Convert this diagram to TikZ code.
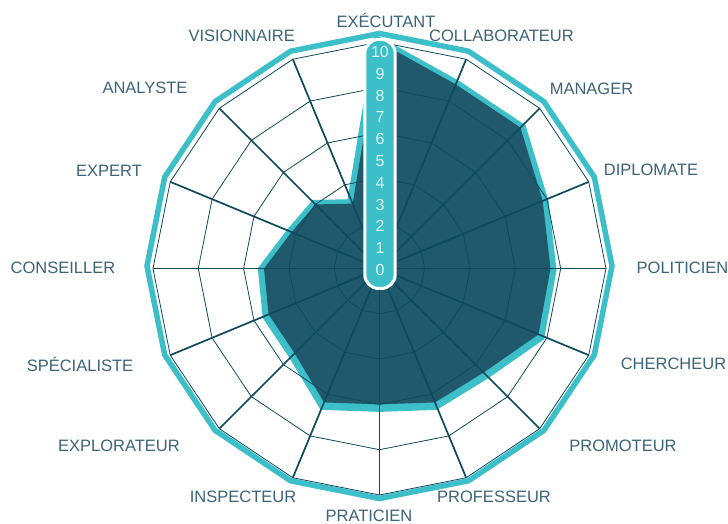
\documentclass[tikz,border=0pt]{standalone}
\usepackage{fontspec}
\setmainfont{Liberation Sans}
\usepackage{tikz}
\usetikzlibrary{positioning}

\definecolor{tealedge}{RGB}{61,191,201}
\definecolor{datafill}{RGB}{32,89,108}
\definecolor{gridline}{RGB}{14,74,94}
\definecolor{labeltext}{RGB}{60,100,120}
\definecolor{pilltext}{RGB}{221,243,245}

% values, clockwise from COLLABORATEUR (EXECUTANT = 10)
\def\datavals{8.8,8.8,7.8,7.55,7.6,6.5,6.4,6.0,6.4,5.3,5.3,5.1,4.2,4.0,3.1}

\begin{document}
\begin{tikzpicture}[%
x=1pt, y=1pt,
node distance=21.8pt,
on grid,
axislabel/.style={text=labeltext, font=\fontsize{16.5}{18}\selectfont, inner sep=0pt, text height=11.8pt, text depth=0pt},
spoke/.style={draw=gridline, line width=1.7pt},
ring/.style={draw=gridline, line width=0.8pt},
outerrim/.style={draw=tealedge, line width=5.5pt, line join=miter},
dataedge/.style={draw=tealedge, line width=12pt, line join=miter},
dataarea/.style={fill=datafill},
pill/.style={fill=tealedge, draw=white, line width=3pt, rounded corners=14pt, minimum width=30.4pt, minimum height=249pt, inner sep=0pt},
pillnum/.style={text=pilltext, font=\fontsize{16}{18}\selectfont, inner sep=0pt}
]
\useasboundingbox[fill=white] (-379.5,-255.5) rectangle (348.5,268.5);
\coordinate (c) at (0,0);

% outer rim
\draw[outerrim, yshift=2.5pt] (90:232.5) \foreach \k in {1,...,15} { -- (90-22.5*\k:232.5) } -- cycle;

% data
\path[dataedge, yshift=-1.5pt] (90:226.5) \foreach \v [count=\k] in \datavals { -- (90-22.5*\k:\v*22.65) } -- cycle;
\path[dataarea] (90:226.5) \foreach \v [count=\k] in \datavals { -- (90-22.5*\k:\v*22.65) } -- cycle;

% grid
\foreach \r in {2,4,6,8,10} {
  \draw[ring] (90:\r*22.65) \foreach \k in {1,...,15} { -- (90-22.5*\k:\r*22.65) } -- cycle;
}
\foreach \k in {0,...,15} \draw[spoke] (c) -- (90-22.5*\k:226.5);

% scale
\node[pill] (scale) at (0.5,104.5) {};
\node[pillnum] (n0) at (0.5,-1.5) {0};
\foreach \n [remember=\n as \last (initially 0)] in {1,...,10}
  \node[pillnum, above=of n\last] (n\n) {\n};

% axis labels
\node[axislabel] (executant) at (6.5,246.8) {EXÉCUTANT};
\node[axislabel] (collaborateur) at (122,232.5) {COLLABORATEUR};
\node[axislabel] (manager) at (212,180.2) {MANAGER};
\node[axislabel] (diplomate) at (271.5,98.5) {DIPLOMATE};
\node[axislabel] (politicien) at (303,1) {POLITICIEN};
\node[axislabel] (chercheur) at (294,-95.5) {CHERCHEUR};
\node[axislabel] (promoteur) at (243.5,-177.5) {PROMOTEUR};
\node[axislabel] (professeur) at (114.5,-228.5) {PROFESSEUR};
\node[axislabel] (praticien) at (-10.5,-247.5) {PRATICIEN};
\node[axislabel] (inspecteur) at (-136.5,-228.5) {INSPECTEUR};
\node[axislabel] (explorateur) at (-260.5,-177.5) {EXPLORATEUR};
\node[axislabel] (specialiste) at (-299.5,-97) {SPÉCIALISTE};
\node[axislabel] (conseiller) at (-316.5,0.8) {CONSEILLER};
\node[axislabel] (expert) at (-270.5,97.8) {EXPERT};
\node[axislabel] (analyste) at (-234.5,180.5) {ANALYSTE};
\node[axislabel] (visionnaire) at (-137.8,232.8) {VISIONNAIRE};

\end{tikzpicture}
\end{document}
